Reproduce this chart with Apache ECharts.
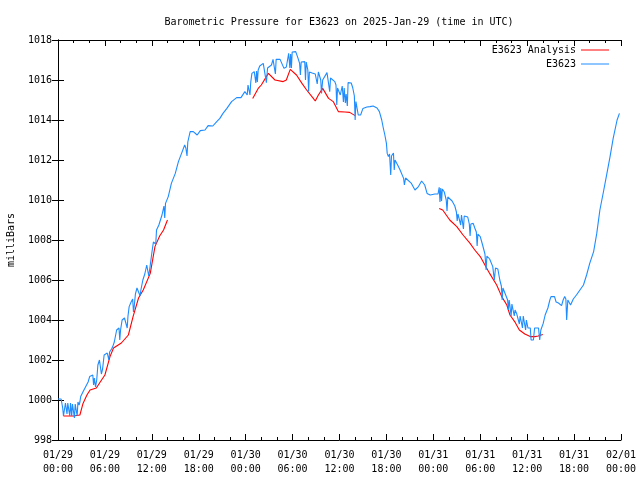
<!DOCTYPE html>
<html>
<head>
<meta charset="utf-8">
<script src="https://cdn.jsdelivr.net/npm/echarts@6/dist/echarts.min.js"></script>
<style>
html,body{margin:0;padding:0;background:#fff;}
#c{width:640px;height:480px;}
</style>
</head>
<body>
<div id="c"></div>
<script>
const titleText = 'Barometric Pressure for E3623 on 2025-Jan-29 (time in UTC)';
const yAxisName = 'milliBars';
const seriesNames = ['E3623 Analysis', 'E3623'];
const xTickLabels = ['01/29\n00:00','01/29\n06:00','01/29\n12:00','01/29\n18:00','01/30\n00:00','01/30\n06:00','01/30\n12:00','01/30\n18:00','01/31\n00:00','01/31\n06:00','01/31\n12:00','01/31\n18:00','02/01\n00:00'];

// hours since 2025-01-29 00:00 UTC
const blueHours = [0.0,0.4,0.6,0.7,0.85,0.95,1.05,1.15,1.25,1.4,1.5,1.6,1.75,1.85,2.0,2.1,2.2,2.35,2.45,2.55,2.7,2.8,2.9,3.1,3.25,3.45,3.7,3.85,4.05,4.25,4.45,4.55,4.65,4.8,4.95,5.1,5.3,5.45,5.55,5.7,5.9,6.1,6.3,6.5,6.6,6.85,7.0,7.2,7.5,7.65,7.8,7.9,8.0,8.2,8.5,8.75,8.85,8.95,9.1,9.35,9.55,9.65,9.75,9.9,10.1,10.35,10.5,10.6,10.85,11.1,11.35,11.5,11.6,11.75,12.0,12.2,12.35,12.5,12.6,12.9,13.3,13.55,13.65,13.75,14.1,14.5,15.0,15.4,15.8,16.2,16.35,16.5,16.6,16.9,17.3,17.8,18.2,18.8,19.2,19.8,20.3,20.7,21.1,21.6,22.2,22.85,23.4,23.9,24.1,24.2,24.3,24.45,24.55,24.65,24.8,24.95,25.1,25.2,25.3,25.4,25.5,25.6,25.8,26.0,26.25,26.5,26.65,26.8,27.05,27.3,27.5,27.7,27.8,27.9,28.4,28.9,29.2,29.5,29.65,29.75,29.85,29.95,30.1,30.4,30.7,30.9,31.0,31.1,31.2,31.55,31.65,31.75,31.95,32.05,32.15,32.5,32.9,33.05,33.15,33.3,33.5,33.6,33.7,33.85,34.4,34.65,34.75,34.85,35.0,35.4,35.55,35.65,35.75,36.1,36.35,36.5,36.6,36.75,36.85,37.0,37.1,37.5,37.7,37.9,38.0,38.1,38.4,38.7,39.0,39.5,39.9,40.3,40.5,40.8,41.1,41.4,41.6,41.8,42.0,42.1,42.25,42.4,42.55,42.65,42.9,43.0,43.1,43.5,43.75,44.2,44.3,44.45,44.7,45.2,45.65,46.1,46.5,46.9,47.2,47.6,48.2,48.6,48.75,48.85,48.95,49.05,49.15,49.4,49.65,49.75,49.85,50.1,50.4,50.55,50.75,50.95,51.05,51.15,51.4,51.5,51.6,51.75,51.85,51.95,52.1,52.4,52.6,52.7,52.8,53.1,53.3,53.5,53.6,53.7,54.0,54.3,54.6,54.75,54.85,55.2,55.6,55.8,55.95,56.25,56.5,56.7,56.8,56.9,57.2,57.5,57.6,57.7,57.85,57.95,58.05,58.2,58.35,58.45,58.65,58.9,59.0,59.1,59.3,59.4,59.5,59.7,59.8,59.9,60.1,60.25,60.4,60.5,60.65,60.8,60.95,61.2,61.45,61.6,61.75,62.05,62.3,62.45,62.65,62.9,63.05,63.3,63.5,63.7,64.0,64.2,64.4,64.6,64.8,64.95,65.05,65.2,65.4,65.55,65.9,66.3,66.75,67.2,67.6,68.0,68.5,68.9,69.3,69.8,70.2,70.6,71.0,71.5,71.8];
const blueValues = [1000.05,1000.05,999.6,999.2,999.2,999.85,999.85,999.3,999.85,999.85,999.2,999.85,999.2,999.8,999.85,999.1,999.8,999.8,999.2,999.9,999.75,999.9,1000.17,1000.2,1000.45,1000.6,1000.6,1000.9,1001.17,1001.25,1001.25,1000.75,1001.1,1000.65,1001.0,1001.75,1002.0,1002.0,1001.3,1001.55,1002.25,1002.35,1002.35,1002.0,1002.4,1002.55,1002.67,1002.9,1003.5,1003.6,1003.6,1003.0,1003.5,1004.0,1004.1,1004.15,1003.6,1004.2,1004.67,1004.9,1005.05,1004.4,1004.7,1005.3,1005.6,1005.7,1005.2,1005.5,1006.0,1006.3,1006.75,1006.75,1006.2,1006.6,1007.35,1007.9,1008.0,1007.8,1008.5,1008.75,1009.25,1009.7,1009.1,1009.83,1010.17,1010.83,1011.33,1011.92,1012.33,1012.75,1012.6,1012.2,1012.9,1013.42,1013.42,1013.25,1013.47,1013.5,1013.72,1013.7,1013.92,1014.08,1014.33,1014.58,1014.92,1015.12,1015.12,1015.42,1015.5,1015.25,1015.75,1015.83,1015.25,1015.9,1016.33,1016.42,1016.42,1016.45,1015.85,1016.45,1015.9,1016.5,1016.7,1016.75,1016.83,1016.75,1015.87,1016.6,1016.55,1016.75,1017.03,1017.03,1016.3,1017.03,1017.03,1016.58,1016.65,1017.33,1016.6,1017.3,1016.6,1017.4,1017.42,1017.42,1017.08,1016.83,1016.25,1016.9,1016.92,1016.92,1016.0,1016.9,1016.5,1015.42,1016.4,1016.35,1016.3,1016.35,1015.8,1016.4,1016.45,1016.0,1015.33,1016.0,1016.37,1016.37,1015.42,1016.1,1016.2,1015.92,1015.75,1014.75,1015.6,1015.25,1015.7,1014.9,1015.6,1014.85,1015.3,1014.7,1015.87,1015.85,1015.6,1015.2,1014.0,1014.92,1014.25,1014.25,1014.58,1014.65,1014.67,1014.7,1014.75,1014.6,1014.42,1014.0,1013.6,1013.25,1012.83,1012.33,1012.17,1012.3,1011.25,1012.2,1012.35,1011.5,1012.0,1011.7,1011.5,1011.08,1010.75,1011.1,1011.12,1010.83,1010.5,1010.67,1010.95,1010.75,1010.33,1010.25,1010.3,1010.3,1010.63,1009.9,1010.6,1009.95,1010.55,1010.4,1010.0,1009.45,1010.15,1010.17,1009.95,1010.0,1009.7,1009.4,1008.95,1009.3,1009.3,1008.75,1009.25,1009.25,1008.55,1009.2,1009.25,1009.15,1008.8,1008.2,1008.8,1008.83,1008.6,1008.4,1007.7,1008.3,1008.17,1007.75,1007.3,1006.5,1007.2,1007.05,1006.67,1006.0,1006.6,1006.55,1006.0,1005.7,1005.0,1005.6,1005.3,1005.0,1004.5,1005.0,1005.08,1004.2,1004.8,1004.5,1004.2,1004.5,1004.33,1004.25,1003.8,1004.2,1004.3,1003.6,1004.2,1004.3,1003.5,1004.0,1003.6,1003.58,1003.6,1003.0,1003.1,1003.0,1003.6,1003.67,1003.6,1003.0,1003.5,1003.83,1004.25,1004.2,1004.6,1005.0,1005.17,1005.1,1005.17,1004.9,1004.85,1004.8,1004.72,1005.0,1005.17,1005.05,1004.0,1005.0,1004.9,1004.75,1005.05,1005.25,1005.5,1005.75,1006.25,1006.83,1007.42,1008.33,1009.5,1010.5,1011.33,1012.17,1013.08,1014.0,1014.33];

// null = no analysis (gap)
const redHours = [0.7,1.5,2.0,2.8,3.2,3.7,4.1,4.9,5.4,6.0,6.65,7.1,8.1,9.0,9.6,10.3,10.9,11.8,12.4,13.0,13.5,14.0,20.0,24.9,25.6,26.0,26.9,27.75,28.8,29.2,29.7,29.85,30.5,31.2,31.8,32.65,32.9,33.3,33.85,34.6,35.2,35.85,36.7,37.3,38.0,44.0,48.75,49.2,50.1,51.0,51.8,52.7,53.3,54.0,54.6,55.2,56.1,56.75,57.4,57.8,58.4,59.0,59.7,60.4,61.0,61.4,62.0];
const redValues = [999.2,999.2,999.2,999.25,999.83,1000.25,1000.5,1000.6,1000.9,1001.25,1002.17,1002.6,1002.85,1003.25,1004.17,1005.1,1005.5,1006.33,1007.67,1008.2,1008.5,1009.0,null,1015.08,1015.58,1015.75,1016.33,1016.0,1015.92,1016.0,1016.53,1016.55,1016.25,1015.83,1015.5,1015.08,1014.95,1015.25,1015.58,1015.08,1014.92,1014.42,1014.4,1014.38,1014.22,null,1009.58,1009.5,1009.0,1008.67,1008.25,1007.83,1007.5,1007.17,1006.75,1006.33,1005.75,1005.17,1004.75,1004.25,1003.92,1003.5,1003.3,1003.17,1003.17,1003.2,1003.28];

const FONT = 'DejaVu Sans Mono';
const chart = echarts.init(document.getElementById('c'), null, {renderer:'canvas'});
const blueData = blueHours.map((h,i)=>[h, blueValues[i]]);
const redData = redHours.map((h,i)=>[h, redValues[i] === null ? '-' : redValues[i]]);

const xBase = {
  type:'value', min:0, max:72, interval:6,
  axisLine:{show:true, lineStyle:{color:'#000', width:1}},
  axisTick:{show:true, inside:true, length:6, lineStyle:{color:'#000'}},
  minorTick:{show:true, splitNumber:3, length:3, lineStyle:{color:'#000'}},
  splitLine:{show:false}
};
const yBase = {
  type:'value', min:998, max:1018, interval:2,
  axisLine:{show:true, lineStyle:{color:'#000', width:1}},
  axisTick:{show:true, inside:true, length:6, lineStyle:{color:'#000'}},
  splitLine:{show:false}
};

chart.setOption({
  animation:false,
  backgroundColor:'#fff',
  title:{
    text:titleText, left:334, top:12, textAlign:'center',
    textStyle:{fontFamily:FONT, fontSize:10, fontWeight:'normal', color:'#000'}
  },
  legend:[
    {data:[seriesNames[0]], right:31, top:45, padding:0, orient:'vertical', align:'right', icon:'rect', itemWidth:28, itemHeight:1, itemGap:2,
     textStyle:{fontFamily:FONT, fontSize:10, color:'#000'}, selectedMode:false},
    {data:[seriesNames[1]], right:31, top:59, padding:0, orient:'vertical', align:'right', icon:'rect', itemWidth:28, itemHeight:1, itemGap:2,
     textStyle:{fontFamily:FONT, fontSize:10, color:'#000'}, selectedMode:false}
  ],
  grid:{left:58, top:40, right:19, bottom:40, containLabel:false, outerBoundsMode:'none'},
  xAxis:[
    Object.assign({}, xBase, {position:'bottom',
      axisLabel:{show:true, margin:8, fontFamily:FONT, fontSize:10, color:'#000', lineHeight:14,
        formatter:(v)=>xTickLabels[Math.round(v/6)]}}),
    Object.assign({}, xBase, {position:'top', axisLabel:{show:false}})
  ],
  yAxis:[
    Object.assign({}, yBase, {position:'left', name:yAxisName, nameLocation:'middle', nameGap:42, nameRotate:90,
      nameTextStyle:{fontFamily:FONT, fontSize:10, color:'#000'},
      axisLabel:{show:true, margin:6, fontFamily:FONT, fontSize:10, color:'#000', formatter:(v)=>String(v)}}),
    Object.assign({}, yBase, {position:'right', axisLabel:{show:false}})
  ],
  series:[
    {name:seriesNames[0], type:'line', data:redData, xAxisIndex:0, yAxisIndex:0, showSymbol:false, symbol:'none',
     connectNulls:false, lineStyle:{color:'#ff0000', width:1.1}, itemStyle:{color:'#ff0000'}},
    {name:seriesNames[1], type:'line', data:blueData, xAxisIndex:0, yAxisIndex:0, showSymbol:false, symbol:'none',
     lineStyle:{color:'#1e8cff', width:1.1}, itemStyle:{color:'#1e8cff'}}
  ]
});
</script>
</body>
</html>
